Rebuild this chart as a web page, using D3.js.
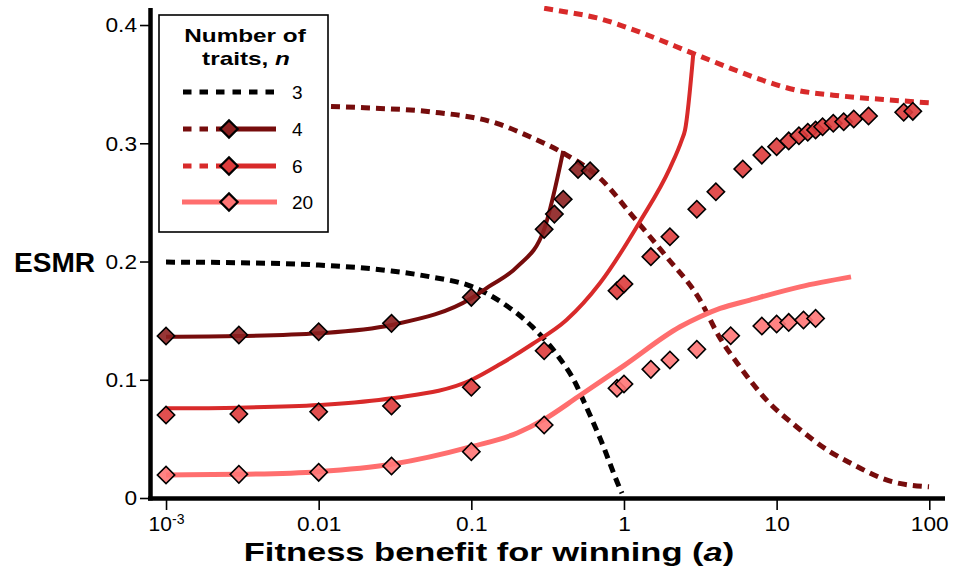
<!DOCTYPE html>
<html><head><meta charset="utf-8">
<script src="https://cdn.jsdelivr.net/npm/d3@7"></script>
<style>
body{margin:0;background:#fff}
text{font-family:"Liberation Sans",Arial,Helvetica,sans-serif;fill:#000}
</style>
</head><body>
<svg id="c" width="953" height="572"></svg>
<script>
// ---- data (a = fitness benefit, v = ESMR) ----
const xTicksMajor = [0.001, 0.01, 0.1, 1, 10, 100];
const xTickLabels = ["10", "0.01", "0.1", "1", "10", "100"];
const yTicksMajor = [0, 0.1, 0.2, 0.3, 0.4];
const yTickLabels = ["0", "0.1", "0.2", "0.3", "0.4"];
const legendLabels = ["3", "4", "6", "20"];

const n3Dashed = [[0.001,0.1995],[0.003,0.199],[0.01,0.197],[0.03,0.192],[0.054,0.187],[0.1,0.179],[0.16,0.165],[0.25,0.145],[0.36,0.122],[0.49,0.095],[0.54,0.083],[0.7,0.05],[0.94,0.008],[0.97,0.004]];
const n4Dashed = [[0.001,0.3335],[0.005,0.3325],[0.02,0.330],[0.054,0.3266],[0.147,0.3168],[0.242,0.3055],[0.4,0.2917],[0.7,0.2702],[1.15,0.2378],[1.9,0.204],[3.15,0.1674],[4.15,0.1377],[5.75,0.111],[8.6,0.0828],[13.5,0.0603],[22.4,0.0391],[30,0.030],[57,0.0138],[99.6,0.0095]];
const n6Dashed = [[0.3,0.4142],[0.4,0.4115],[0.666,0.406],[1.33,0.393],[2.83,0.376],[4.95,0.3636],[7.8,0.354],[13.5,0.3449],[23.5,0.3407],[50,0.337],[101,0.3342]];
const n4Solid = [[0.001,0.1364],[0.003,0.137],[0.01,0.1393],[0.03,0.1463],[0.1,0.1689],[0.13,0.1787],[0.2,0.1956],[0.3,0.2272],[0.4,0.2935]];
const n6Solid = [[0.001,0.0758],[0.003,0.0764],[0.01,0.0786],[0.03,0.0843],[0.1,0.0998],[0.155,0.1133],[0.25,0.130],[0.42,0.1505],[0.697,0.1818],[1.27,0.2337],[2.0,0.279],[2.39,0.3027],[2.51,0.311],[2.85,0.377]];
const n20Solid = [[0.001,0.0195],[0.003,0.020],[0.01,0.0223],[0.03,0.0285],[0.1,0.0434],[0.2,0.055],[0.3,0.0665],[0.5,0.0856],[1.0,0.112],[2.33,0.1448],[3.15,0.1533],[4.26,0.1603],[6.69,0.1674],[14.2,0.1786],[30.7,0.187]];
const n4Marks = [[0.001,0.137],[0.003,0.1378],[0.01,0.1406],[0.03,0.1477],[0.1,0.1697],[0.3,0.2272],[0.35,0.2401],[0.4,0.2526],[0.5,0.2779],[0.6,0.2768]];
const n6Marks = [[0.001,0.0702],[0.003,0.071],[0.01,0.073],[0.03,0.0778],[0.1,0.0936],[0.3,0.1246],[0.9,0.1753],[1,0.181],[1.5,0.2041],[2,0.221],[3,0.2442],[4,0.259],[6,0.2782],[8,0.29],[10,0.297],[12,0.302],[14,0.3064],[16,0.3093],[18,0.3112],[20,0.314],[23.5,0.3169],[27.5,0.3182],[32,0.3205],[40,0.323],[68,0.3262],[78,0.327]];
const n20Marks = [[0.001,0.0195],[0.003,0.02],[0.01,0.0217],[0.03,0.0271],[0.1,0.0392],[0.3,0.0617],[0.9,0.0928],[1,0.0964],[1.5,0.1088],[2,0.1167],[3,0.1257],[5,0.1372],[8,0.1454],[10,0.1471],[12,0.1485],[15,0.1505],[18,0.1519]];

// ---- styles ----
const C3 = "#000000", C4 = "#760c0c", C6 = "#d82a2a", C20 = "#ff6e6e";
const M4 = "#8c2020", M6 = "#de3c3c", M20 = "#ff7575";

const svg = d3.select("#c");
const x = d3.scaleLog().domain([Math.pow(10,-3.105), Math.pow(10,2.103)]).range([150,945]);
const y = d3.scaleLinear().domain([0,0.4144]).range([498,8]);

svg.append("defs").append("clipPath").attr("id","clip")
  .append("rect").attr("x",150).attr("y",6).attr("width",795).attr("height",492);

const line = d3.line().x(d=>x(d[0])).y(d=>y(d[1])).curve(d3.curveMonotoneX);
const plot = svg.append("g").attr("clip-path","url(#clip)");

function drawLine(data, color, w, dash){
  const p = plot.append("path").datum(data).attr("d",line)
    .attr("fill","none").attr("stroke",color).attr("stroke-width",w);
  if(dash) p.attr("stroke-dasharray",dash);
}
drawLine(n3Dashed, C3, 5, "9,6");
drawLine(n4Dashed, C4, 5, "9,6");
drawLine(n6Dashed, C6, 5, "9,6");
drawLine(n4Solid, C4, 4, null);
drawLine(n6Solid, C6, 4, null);
drawLine(n20Solid, C20, 5, null);

function drawMarks(data, fill){
  plot.append("g").selectAll("path").data(data).join("path")
    .attr("transform", d=>`translate(${x(d[0])},${y(d[1])}) rotate(45)`)
    .attr("d", d3.symbol().type(d3.symbolSquare).size(150))
    .attr("fill", fill).attr("fill-opacity",0.9)
    .attr("stroke","#000").attr("stroke-width",1.6);
}
drawMarks(n4Marks, M4);
drawMarks(n6Marks, M6);
drawMarks(n20Marks, M20);

function stretch(sel, f){
  sel.each(function(){
    const L = this.getComputedTextLength();
    d3.select(this).attr("textLength", L*f).attr("lengthAdjust","spacingAndGlyphs");
  });
}

// ---- axes ----
const minorX = [];
for(let e=-3;e<=1;e++){ for(let k=2;k<=9;k++){ minorX.push(k*Math.pow(10,e)); } }
const minorY = d3.range(0.02,0.41,0.02).filter(v=>Math.abs(v*10-Math.round(v*10))>1e-6);

const xg = svg.append("g").attr("transform","translate(0,498)");
xg.call(d3.axisBottom(x).tickValues(minorX).tickSize(7).tickFormat(""));
xg.call(d3.axisBottom(x).tickValues(xTicksMajor).tickSize(12).tickSizeOuter(0).tickPadding(6)
  .tickFormat((d,i)=>xTickLabels[i]));
xg.selectAll(".domain").remove();
xg.selectAll(".tick line").attr("stroke","#000").attr("stroke-width",1.6);
xg.selectAll(".tick text").attr("font-size",21).attr("font-family",null);
stretch(xg.selectAll(".tick text").filter(d=>d!==0.001), 1.08);
xg.selectAll(".tick text").filter(d=>d===0.001)
  .append("tspan").attr("dy","-0.5em").attr("font-size",14).text("-3");

const yg = svg.append("g").attr("transform","translate(150.5,0)");
yg.call(d3.axisLeft(y).tickValues(minorY).tickSize(6.5).tickFormat(""));
yg.call(d3.axisLeft(y).tickValues(yTicksMajor).tickSize(10.5).tickSizeOuter(0).tickPadding(3)
  .tickFormat((d,i)=>yTickLabels[i]));
yg.selectAll(".domain").remove();
yg.selectAll(".tick line").attr("stroke","#000").attr("stroke-width",1.6);
yg.selectAll(".tick text").attr("font-size",21).attr("font-family",null);
stretch(yg.selectAll(".tick text"), 1.08);

// axis lines
svg.append("line").attr("x1",148).attr("x2",945).attr("y1",498.5).attr("y2",498.5).attr("stroke","#000").attr("stroke-width",4.5);
svg.append("line").attr("x1",150.5).attr("x2",150.5).attr("y1",8).attr("y2",500.5).attr("stroke","#000").attr("stroke-width",4.5);

// titles
svg.append("g").attr("transform","translate(14,272) scale(1.04,1)")
  .append("text").attr("x",0).attr("y",0).attr("font-size",27).attr("font-weight","bold").text("ESMR");
const xt = svg.append("g").attr("transform","translate(489,561) scale(1.38,1)")
  .append("text").attr("x",0).attr("y",0).attr("text-anchor","middle")
  .attr("font-size",25).attr("font-weight","bold");
xt.append("tspan").text("Fitness benefit for winning (");
xt.append("tspan").attr("font-style","italic").text("a");
xt.append("tspan").text(")");

// ---- legend ----
const lg = svg.append("g");
lg.append("rect").attr("x",159).attr("y",15).attr("width",169).attr("height",217)
  .attr("fill","#fff").attr("stroke","#000").attr("stroke-width",1.6);
const lt1 = lg.append("g").attr("transform","translate(245,42) scale(1.28,1)");
lt1.append("text").attr("text-anchor","middle").attr("font-size",19).attr("font-weight","bold").text("Number of");
const lt2 = lg.append("g").attr("transform","translate(246,65) scale(1.28,1)")
  .append("text").attr("text-anchor","middle").attr("font-size",19).attr("font-weight","bold");
lt2.append("tspan").text("traits, ");
lt2.append("tspan").attr("font-style","italic").text("n");

const legendItems = [
  {c:C3, m:null, dashAll:true, lw:5},
  {c:C4, m:M4, dashAll:false, lw:5},
  {c:C6, m:M6, dashAll:false, lw:5},
  {c:C20, m:M20, dashAll:false, lw:5, solidOnly:true}
];
const rowY = [92, 129, 166, 202];
legendItems.forEach((it,i)=>{
  const yy = rowY[i];
  if(it.dashAll){
    lg.append("line").attr("x1",183).attr("x2",276).attr("y1",yy).attr("y2",yy)
      .attr("stroke",it.c).attr("stroke-width",it.lw).attr("stroke-dasharray","8.5,8");
  } else if(it.solidOnly){
    lg.append("line").attr("x1",182).attr("x2",277).attr("y1",yy).attr("y2",yy)
      .attr("stroke",it.c).attr("stroke-width",it.lw);
  } else {
    lg.append("line").attr("x1",183).attr("x2",225).attr("y1",yy).attr("y2",yy)
      .attr("stroke",it.c).attr("stroke-width",it.lw).attr("stroke-dasharray","8.5,8");
    lg.append("line").attr("x1",229).attr("x2",276).attr("y1",yy).attr("y2",yy)
      .attr("stroke",it.c).attr("stroke-width",it.lw);
  }
  if(it.m){
    lg.append("path").attr("transform",`translate(229,${yy}) rotate(45)`)
      .attr("d", d3.symbol().type(d3.symbolSquare).size(150))
      .attr("fill",it.m).attr("stroke","#000").attr("stroke-width",2.2);
  }
  lg.append("text").attr("x",292).attr("y",yy+7).attr("font-size",19).text(legendLabels[i]);
});
</script>
</body></html>
